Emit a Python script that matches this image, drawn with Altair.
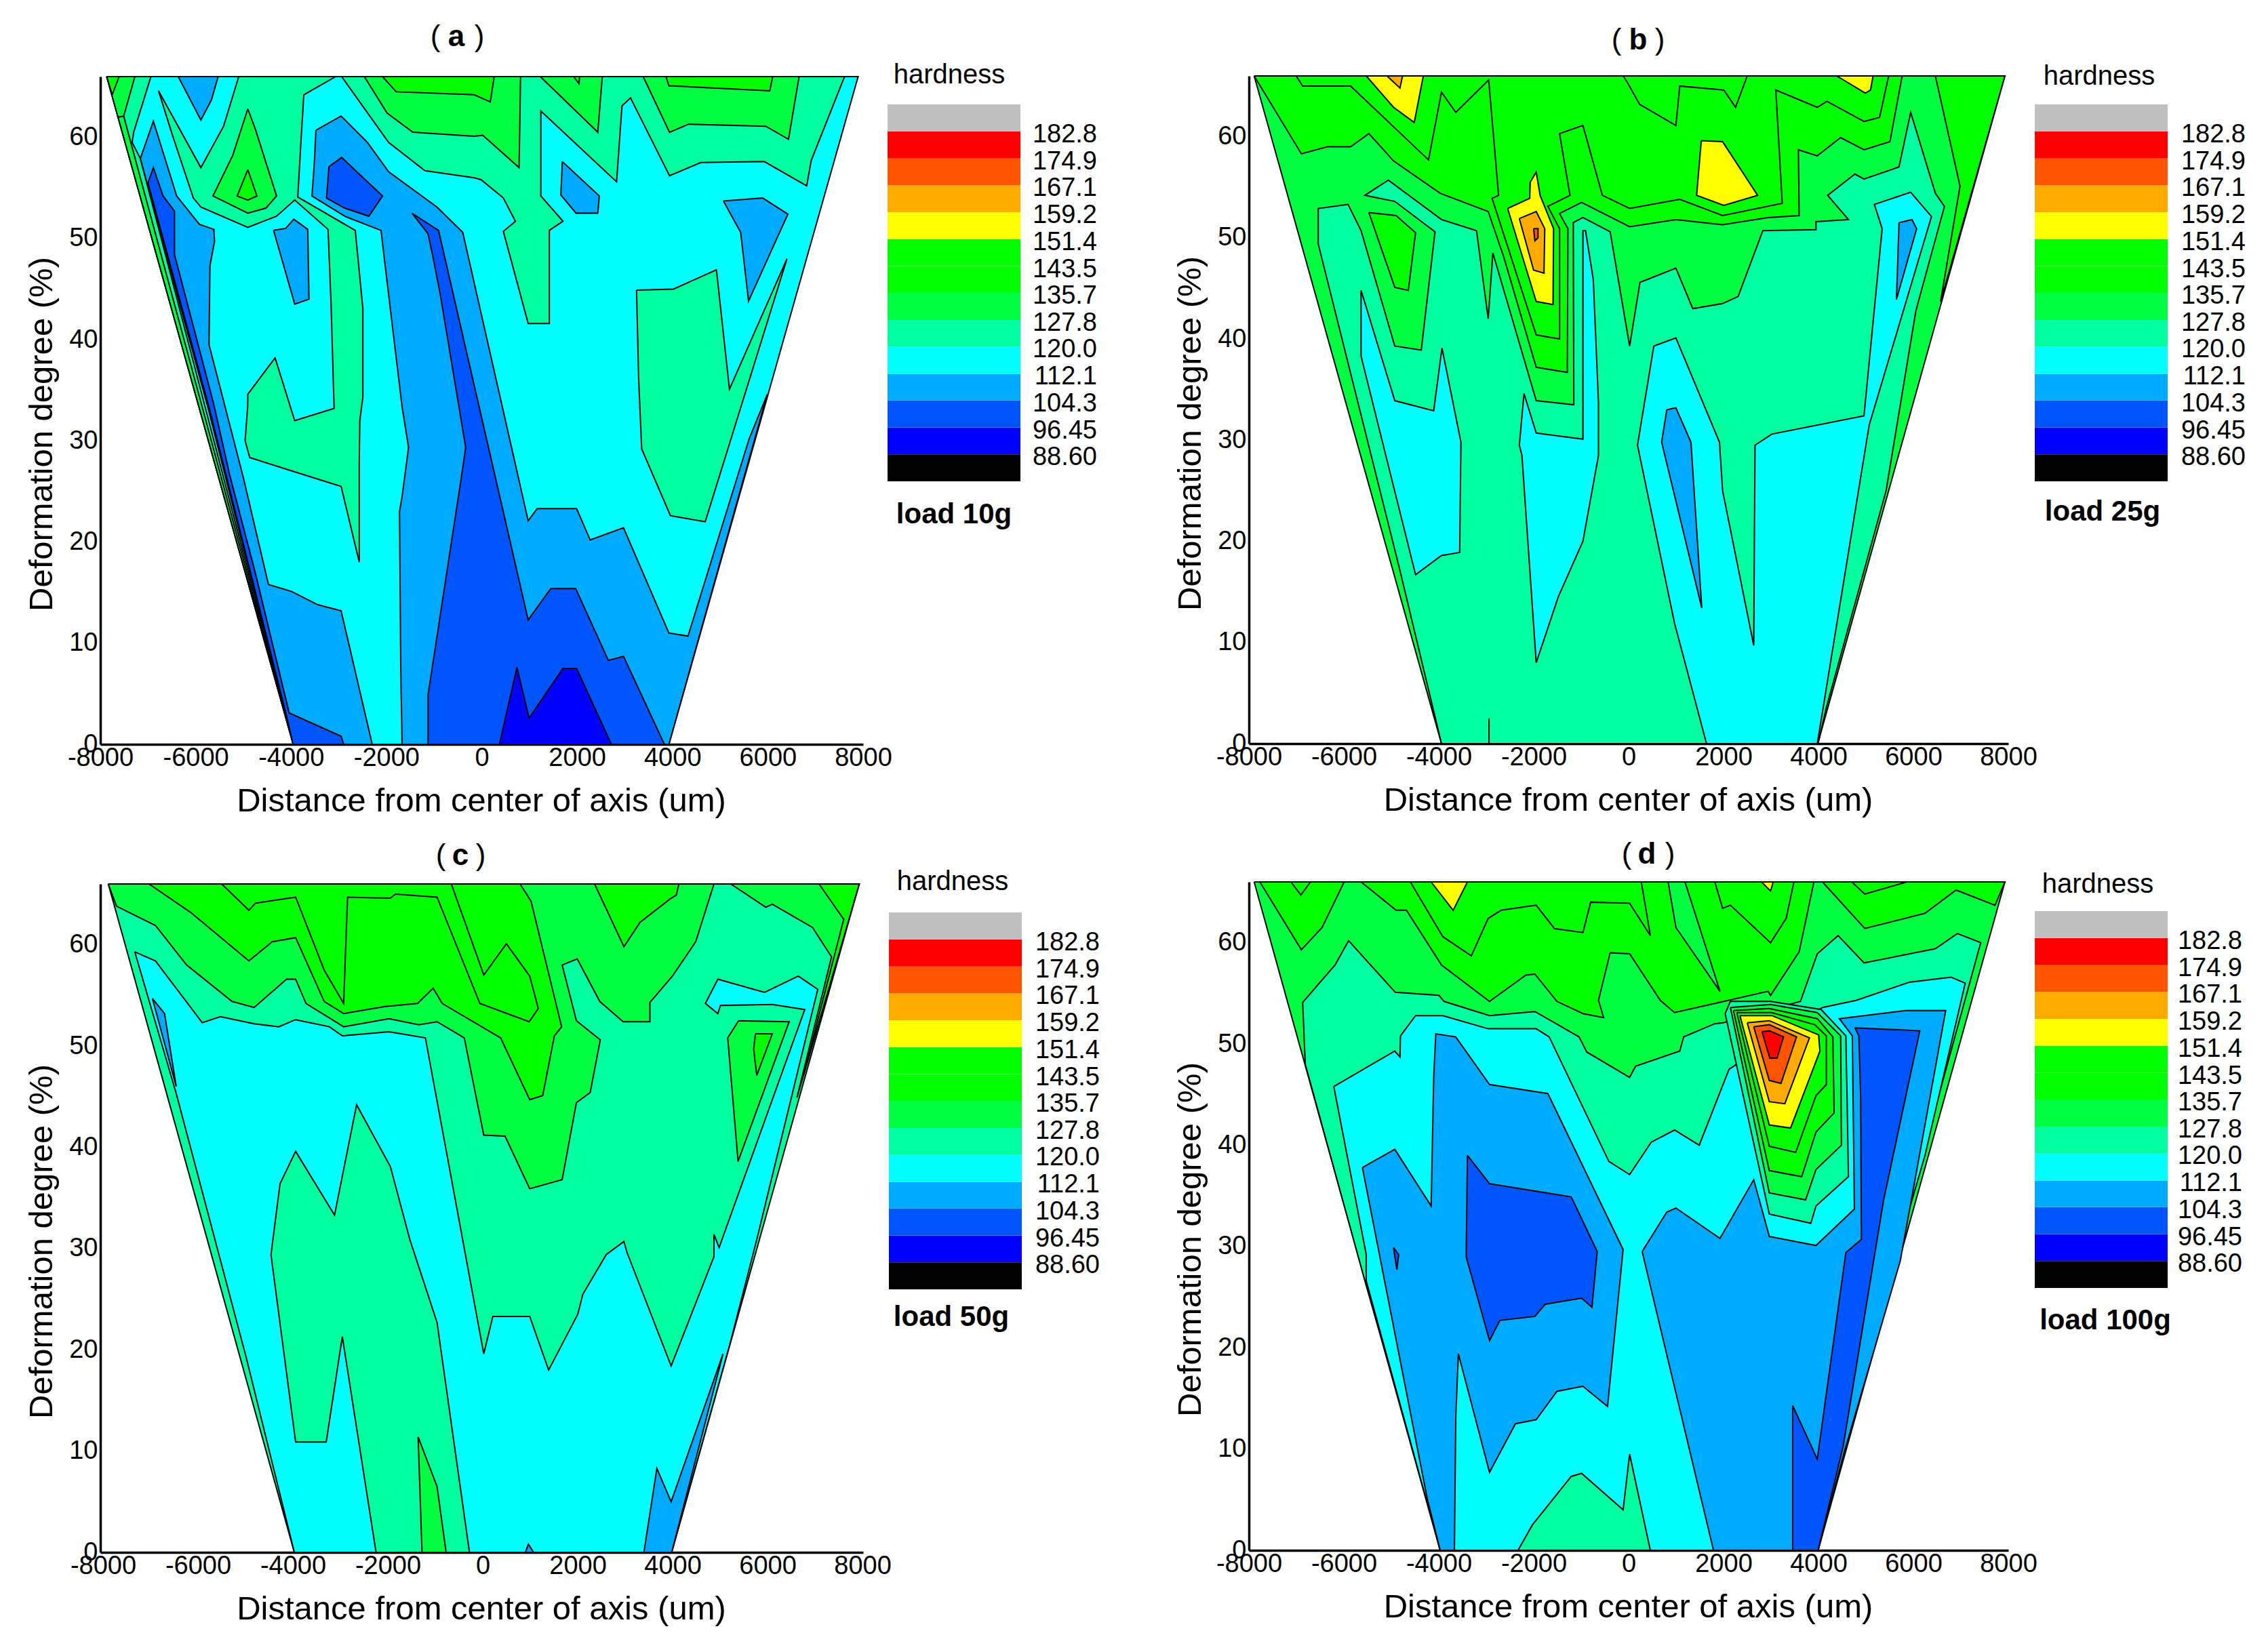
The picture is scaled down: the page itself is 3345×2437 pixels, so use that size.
import altair as alt
import pandas as pd

FONT = "Liberation Sans"
COL = {"R": "#FF0000", "T": "#FF5500", "O": "#FFAA00", "Y": "#FFFF00", "G": "#00FF00",
       "L": "#00FF40", "A": "#00FF9F", "C": "#00FFFF", "S": "#00AAFF", "B": "#0055FF", "P": "#0000FF"}

LEVELS = [88.60, 96.45, 104.3, 112.1, 120.0, 127.8, 135.7, 143.5, 151.4, 159.2, 167.1, 174.9, 182.8]
LEVEL_TEXT = ["88.60", "96.45", "104.3", "112.1", "120.0", "127.8", "135.7", "143.5", "151.4", "159.2", "167.1", "174.9", "182.8"]
BAND_LOW = [80.75] + LEVELS
BAND_HIGH = LEVELS + [190.65]
BAND_COL = ["#000000", "#0000FF", "#0055FF", "#00AAFF", "#00FFFF", "#00FF9F", "#00FF40", "#00FF00",
            "#00FF00", "#FFFF00", "#FFAA00", "#FF5500", "#FF0000", "#C0C0C0"]
X_TICKS = list(range(-8000, 8001, 2000))
Y_TICKS = list(range(0, 61, 10))

# Contour regions: (band, [(distance um, deformation %), ...]); later regions lie on earlier ones
PANEL_A = [
 ("C", [(-7866,66),(7895,66),(3926,0),(-3954,0)]),
 ("A", [(-7866,66),(-6939,66),(-7301,60.5),(-7333,59.5),(-7161,57.9),(-5800,33.3),(-3954,0)]),
 ("L", [(-7510,62.1),(-3954,0),(-7630,62)]),
 ("L", [(-7866,66),(-7275,66),(-7510,62.1),(-7630,62)]),
 ("G", [(-7866,66),(-7606,66),(-7752,64.2)]),
 ("S", [(-6367,66),(-5891,61.7),(-5669,63.7),(-5529,66)]),
 ("A", [(-5097,66),(-3065,66),(-3732,64.2),(-3783,60.3),(-3859,54.1),(-2653,50.8),(-2494,43.1),(-2494,34.3),(-2558,32),(-2569,28),(-2569,18),(-2950,25.5),(-4039,27.1),(-4866,28.35),(-4964,30),(-4910,33.35),(-4907,34.6),(-4335,38.2),(-3923,32),(-3097,33.2),(-3161,43.6),(-3224,50.9),(-3923,53.8),(-4304,52.2),(-4907,51.1),(-5891,53.1),(-6050,54),(-6494,60.3),(-6780,64.6),(-5891,57),(-5415,61.1)]),
 ("L", [(-4907,62.8),(-5224,58.2),(-5637,54.2),(-4907,52.5),(-4526,53),(-4304,54.2),(-4748,60.8)]),
 ("G", [(-4907,56.8),(-5129,54.2),(-4907,53.8),(-4716,54.2)]),
 ("S", [(-4367,50.8),(-4113,51),(-3942,51.9),(-3650,50.9),(-3624,44),(-3923,43.5)]),
 ("S", [(-7161,57.9),(-6888,61.6),(-6399,54.2),(-5923,51.4),(-5618,50.9),(-5605,49.7),(-5701,47.3),(-5720,39.5),(-5352,32.8),(-4992,26.2),(-4474,15.8),(-3984,15.1),(-3440,13.8),(-2950,13.2),(-2297,0),(-3954,0),(-5745,33.3)]),
 ("B", [(-7002,55.5),(-6888,57),(-6685,54.2),(-6444,52.7),(-6444,48.4),(-5620,33.6),(-5291,26.7),(-4747,16.9),(-4039,3.1),(-2950,0.8),(-2896,0),(-3957,0),(-4121,3.3),(-5720,33.3)]),
 ("S", [(-3478,60.7),(-2951,62.1),(-2399,59.5),(-1954,56.6),(-938,53.1),(-398,50.6),(974,22.1),(1164,23.3),(1990,23.3),(2275,20.2),(2974,21.4),(3926,11),(4326,10.7),(5609,30.2),(5990,34.6),(3926,0),(-1671,0),(-1698,7.1),(-1725,23),(-1671,24.5),(-1535,29.35),(-1671,33.35),(-2018,47),(-2113,50.8),(-2875,52.2),(-3561,54.2),(-3510,57.6)]),
 ("B", [(-3205,57.1),(-2938,58),(-2081,54.2),(-2367,52.2),(-2875,53),(-3256,54)]),
 ("B", [(-1465,52.5),(-906,50.8),(974,12.3),(1450,15.4),(1970,15.4),(2656,8.3),(2974,8.7),(3831,0),(-1126,0),(-1126,4.9),(-418,26.7),(-337,29.35),(-868,44.4),(-1033,48.4),(-1129,50.5)]),
 ("P", [(370,0),(739,7.6),(993,2.6),(1704,7.5),(1990,7.5),(2720,0)]),
 ("A", [(-2939,66),(-1954,59.5),(-1192,56.7),(-157,56),(-11,55.8),(453,54),(707,51.7),(453,50.7),(974,41.6),(1418,41.6),(1418,50.8),(1704,51.7),(1240,54.2),(1240,62.6),(2828,55.6),(2942,63.1),(3120,63.9),(3939,56.2),(4593,57.5),(5927,57.6),(6816,55.2),(6911,57.7),(7610,66)]),
 ("L", [(-2462,66),(-1986,62.4),(-1446,60.5),(-157,60.1),(21,60.2),(783,57),(815,66)]),
 ("L", [(1228,66),(2434,60.5),(2529,66)]),
 ("L", [(3387,66),(3939,60.5),(4339,61.3),(5958,61.1),(6435,59.8),(6657,66)]),
 ("G", [(-2081,66),(-1796,64.5),(-157,64.2),(180,63.5),(262,66)]),
 ("G", [(1926,66),(2040,65.3),(2053,66)]),
 ("G", [(3863,66),(3926,65.1),(6041,64.6),(6104,66)]),
 ("S", [(5069,53.7),(5895,54),(6422,52.4),(5596,43.8),(5431,50.6)]),
 ("S", [(1691,57.6),(2466,54.2),(2434,52.5),(1977,52.5),(1659,54.3)]),
 ("A", [(3247,44.9),(4022,45),(4923,46.9),(5196,35.1),(6403,48),(4688,22),(3958,22.6),(3355,29.2),(3291,36.1)]),
]

PANEL_B = [
 ("L", [(-7890,66),(7928,66),(3985,0),(-3943,0)]),
 ("A", [(-3943,0),(-4817,17.1),(-6540,49.4),(-6540,52.9),(-5911,53.3),(-5637,50.7),(-4927,39.3),(-4369,38.9),(-4079,50.6),(-4927,53.6),(-5556,54.2),(-5063,55.7),(-3943,51.8),(-3205,50.7),(-2959,42),(-2860,48.5),(-1947,33.9),(-1155,33.5),(-1166,51.5),(-963,52),(-389,50.6),(21,39.3),(240,45.6),(996,47),(1351,43),(1980,43.5),(2308,44.2),(2827,50.7),(3948,50.8),(3948,51.6),(4631,51.8),(4194,54.2),(4768,56.3),(4959,55.8),(5697,57),(5943,62.4),(6463,54.4),(6654,53.1),(6053,42.8),(5424,25),(4167,3.6),(3992,0)]),
 ("G", [(-7890,66),(-6895,58.3),(-6348,59),(-5856,59),(-5473,60.3),(-4954,57.6),(-3970,54.4),(-2959,52.6),(-2631,48.1),(-1947,37.2),(-1291,36.7),(-1280,50.9),(-1455,52.4),(-991,53.5),(21,51.1),(996,51.8),(1980,51.3),(2937,52),(3593,52.2),(3576,58.7),(3975,58.1),(4467,59.9),(4959,58.7),(5506,59.5),(5763,66)]),
 ("G", [(-5473,52.5),(-4899,52.2),(-4489,50.5),(-4642,44.8),(-4927,45.1)]),
 ("G", [(6463,66),(6982,55.1),(6572,43.7),(7928,66)]),
 ("G", [(-7004,66),(-6868,65),(-5856,65),(-4981,61.1),(-4216,57.7),(-3943,64.4),(-3642,62.4),(-2948,65.6),(-2740,54.2),(-2877,53.9),(-1947,40.4),(-1455,40),(-1455,50.9),(-1701,53.1),(-1236,54.2),(-1455,60.3),(-963,61.1),(-553,54.2),(21,52.9),(1078,53.8),(1980,52.2),(3237,53.4),(3101,64.6),(3975,62.9),(4178,63.5),(4959,61.5),(5287,61.9),(5479,66)]),
 ("G", [(-116,66),(-43,65.5),(230,63.2),(996,61.1),(1078,65),(2007,64.6),(2253,62.9),(2499,66)]),
 ("Y", [(-5528,66),(-4954,62.9),(-4517,61.4),(-4325,66)]),
 ("O", [(-5091,66),(-4817,64.8),(-4763,66)]),
 ("Y", [(-2549,52.9),(-2084,53.9),(-2073,55.5),(-1947,56.5),(-1865,54.2),(-1581,50.9),(-1592,43.4),(-1947,43.7)]),
 ("O", [(-2303,51.9),(-1947,52.6),(-1767,50.9),(-1783,46.5),(-2002,46.8)]),
 ("T", [(-2002,50.9),(-1909,50.9),(-1909,50),(-1975,49.7)]),
 ("Y", [(1531,59.6),(1980,59.5),(2718,54.2),(2007,53.2),(1433,54.2)]),
 ("Y", [(4385,66),(4987,64.3),(5096,64.6),(5151,66)]),
 ("C", [(-5637,44.8),(-4927,33.9),(-4107,32.9),(-3932,39.1),(-3533,29.8),(-3560,18.9),(-3943,18.6),(-4489,16.7),(-5637,38.3)]),
 ("C", [(-2204,34.6),(-1947,30.7),(-963,30.1),(-963,50.7),(-908,50.7),(-745,45.9),(-635,33.7),(-635,28.5),(-963,20),(-1483,14.5),(-1947,8),(-2248,28.5),(-2303,29.5)]),
 ("C", [(531,39.3),(996,40.1),(1914,29.8),(1980,25),(2636,9.7),(2663,29.5),(3019,30.6),(4959,32.4),(5342,50.9),(5178,53.3),(5943,54.5),(6381,52.1),(5069,31.5),(3975,0),(1641,0),(968,11.9),(187,29.5)]),
 ("S", [(804,33),(996,33.2),(1313,29.8),(1542,13.4),(695,29.8)]),
 ("S", [(5697,51.5),(5971,51.8),(6069,50.9),(5643,43.9)]),
 ("A", [(-2942,2.5),(-2942,0)]),
]

PANEL_C = [
 ("A", [(-7890,66),(7932,66),(3980,0),(-3970,0)]),
 ("L", [(-7890,66),(-7715,63.8),(-6895,61.9),(-6239,58),(-5282,54.4),(-4817,53.8),(-4134,56.6),(-3943,56.6),(-3724,54.2),(-2931,51.9),(-1974,52.7),(-1346,52.1),(-963,52.4),(-389,50.8),(21,41.2),(470,41.1),(989,35.9),(1673,36.8),(1973,44.4),(2263,45.4),(2476,50.6),(1973,52.5),(1673,58),(1990,58.6),(2465,54.4),(2958,52.4),(3521,52.4),(3521,54.3),(3996,56.9),(4488,60.3),(4871,66)]),
 ("L", [(5226,66),(5964,63.7),(6101,64),(6948,61.7),(7348,58.8),(6620,44.9),(7932,66)]),
 ("G", [(-7032,66),(-6157,63.2),(-4927,58.4),(-4435,60.3),(-3943,60.7),(-3341,54.4),(-2931,53.2),(-2056,53.9),(-1373,54.2),(-1045,55.7),(-854,54.2),(376,50.8),(989,44.7),(1263,45.1),(1509,51),(1662,51.9),(1017,64.3),(787,66)]),
 ("G", [(-5501,66),(-4927,63.4),(-4790,64.1),(-3943,64.7),(-3341,57.5),(-2931,54.2),(-2849,64.7),(-1947,64.6),(-1838,65),(-963,64.7),(-61,54.2),(978,52.4),(1170,53.7),(989,56.9),(497,60.1),(22,57),(-663,66)]),
 ("G", [(2356,66),(2974,59.8),(3313,62.2),(3942,64.5),(4078,64.9),(4133,66)]),
 ("G", [(7085,66),(7605,62.5),(6757,47.1),(7932,66)]),
 ("C", [(-7332,59.3),(-6895,58.4),(-5911,52.3),(-5528,52.9),(-4817,52.2),(-4298,51.9),(-3943,52.6),(-3232,51.9),(-2959,51),(-1974,51.4),(-1209,50.8),(21,19.6),(212,23.3),(989,23.3),(1388,18),(2001,23.5),(2110,25.5),(2602,29.4),(2974,30.7),(3040,29.6),(3969,18.4),(4871,29.2),(4871,31.4),(4980,30.1),(6784,53.6),(6101,54.1),(5008,54),(4953,53.2),(4691,54.2),(4953,56.6),(5937,55.3),(6648,56.9),(7058,55.6),(5773,30.9),(5226,20.9),(3980,0),(-3970,0),(-4981,19.2),(-6458,45.3)]),
 ("A", [(-4462,29.4),(-4271,36.4),(-3943,39.6),(-3123,33.3),(-2658,44.2),(-1947,38.1),(-1537,30.9),(-963,22.7),(-280,0),(-2248,0),(-2959,21.3),(-3298,10.9),(-3943,10.9)]),
 ("L", [(-1362,11.4),(-963,6.5),(-772,0),(-1280,0)]),
 ("S", [(-6961,54.7),(-6704,53.2),(-6458,46)]),
 ("S", [(3395,0),(3668,8.3),(3969,5),(5062,19.6),(3980,0)]),
 ("S", [(897,0),(962,0.8),(1071,0)]),
 ("L", [(5390,52.5),(6456,52.4),(5379,38.6),(5161,50.8)]),
 ("G", [(5746,51.2),(6101,51.2),(5773,47.1),(5707,49.7)]),
]

PANEL_D = [
 ("L", [(-7890,66),(7928,66),(3992,0),(-3970,0)]),
 ("A", [(-6813,48),(-6868,54.1),(-6184,57.8),(-5900,60.2),(-4916,55.1),(-3997,54.8),(-3888,54.2),(-2931,52.8),(-1974,53.2),(-1045,50.7),(-881,49.2),(21,46.7),(148,47.8),(1078,49.3),(1160,50.7),(1816,52),(1991,52.1),(3620,54.2),(3975,58.9),(4413,60.7),(4959,58),(6463,59.4),(6927,60.9),(7419,60),(6189,39),(5369,24.4),(4549,11.2),(3992,0),(-3970,0),(-4243,5.1),(-5556,26.6)]),
 ("C", [(-6212,45.8),(-4927,49.3),(-4817,48.7),(-4806,50.8),(-4489,52.8),(-3915,52.8),(-2959,51.5),(-1947,51.5),(-1674,50.7),(-416,38.4),(21,37.1),(476,40.3),(968,41.5),(1488,40),(2116,47.5),(4085,53.6),(4795,54.3),(5916,56.1),(6791,56.6),(7092,56),(6244,39),(5342,24.4),(4538,10.7),(3992,0),(-3970,0),(-5528,26.6),(-5528,29.2)]),
 ("S", [(-5610,37.8),(-4927,39.6),(-4161,34),(-4107,46.7),(-4063,51),(-3642,50.7),(-2931,46),(-1701,45.1),(-116,29.7),(-444,14.2),(-963,16.2),(-1510,15.7),(-1947,12.9),(-2384,12.5),(-2931,7.7),(-3587,19.4),(-3642,13.1),(-3670,0),(-3970,0),(-4243,5.1)]),
 ("B", [(-3396,39),(-2931,36.2),(-1209,34.9),(-662,29.5),(-772,24),(-991,24.9),(-1756,24.3),(-1974,23.1),(-2713,22.7),(-2931,20.7),(-3423,29)]),
 ("B", [(-4954,29.9),(-4845,29.2),(-4883,27.7)]),
 ("A", [(-2330,0),(-2029,2.5),(-1209,7.3),(-991,7.6),(-116,4),(21,9.5),(458,0)]),
 ("S", [(285,29.5),(804,33.4),(996,33.8),(1925,30.8),(2636,36.6),(2964,31),(3948,30.1),(4757,33.7),(4713,50.8),(4440,52.5),(5834,53.3),(6681,53.3),(5725,28.6),(4549,9.8),(3992,0),(1788,0)]),
 ("B", [(4768,51.6),(6135,51.3),(5369,34.5),(4522,10.3),(3992,0),(3456,0),(3456,14.3),(3975,9),(4577,29.4),(4905,30.7),(4888,44.9),(4850,50.8)]),
 ("G", [(-7770,66),(-6895,59.3),(-6458,61.5),(-5993,66)]),
 ("G", [(-7114,66),(-6906,64.7),(-6704,66)]),
 ("G", [(-5637,66),(-4899,63.2),(-4681,63.2),(-3943,57.8),(-2931,54.2),(-2166,56.8),(-1974,56.9),(-1510,54.2),(-963,53),(-526,52.6),(-635,54.3),(-389,59),(21,58.9),(668,54.3),(968,53.1),(2007,54.2),(2937,55.2),(2991,54.8),(3593,59.1),(3904,66)]),
 ("L", [(832,66),(996,61.5),(1925,55.2),(1187,66)]),
 ("G", [(-4599,66),(-3915,60.6),(-3314,58.7),(-2959,62.4),(-2685,63.2),(-1947,63.7),(-1565,61.4),(-963,61),(-799,64),(21,63.9),(458,60.7),(267,66)]),
 ("G", [(1816,66),(1980,63.4),(2144,63.7),(2991,60),(3319,62.4),(3483,66)]),
 ("Y", [(-4161,66),(-3697,63.2),(-3396,66)]),
 ("Y", [(2800,66),(2991,65.1),(3046,66)]),
 ("G", [(4085,66),(4976,61.4),(6244,62.9),(6900,65.2),(7720,63.7),(7928,66)]),
 ("G", [(4702,66),(4976,64.8),(5861,66)]),
 ("A", [(2034,53),(2964,33.2),(3839,32.3),(3948,34),(4631,36.9),(4604,44.3),(4577,50.8),(4057,53.4),(2991,54.2),(2144,54.2)]),
 ("L", [(2144,53.6),(2964,35.3),(3729,34.6),(3948,37.6),(4484,40),(4467,50.8),(3975,53.1),(2991,53.9)]),
 ("G", [(2209,53.3),(2964,37.5),(3647,36.9),(3948,41.3),(4330,43.2),(4303,50.7),(3975,52.5),(2964,53.5)]),
 ("G", [(2280,53.1),(2964,39.9),(3521,39.3),(3948,44.9),(4167,46),(4167,50.8),(3921,51.9),(3019,53.1)]),
 ("Y", [(2346,52.8),(2964,42),(3412,41.7),(4030,49.3),(4003,50.9),(3019,52.8)]),
 ("O", [(2499,52.1),(2964,44.3),(3292,44.1),(3811,50.6),(2964,52.3)]),
 ("T", [(2636,51.7),(2964,46.4),(3210,46.1),(3538,50.7),(2964,51.9)]),
 ("R", [(2811,51.2),(2975,48.6),(3128,48.6),(3265,50.7),(2964,51.3)]),
]


def frame(polys):
    rows = []
    for p, (band, pts) in enumerate(polys):
        for i, (x, y) in enumerate(pts + [pts[0]]):
            rows.append({"p": p, "i": i, "x": x, "y": y, "col": COL[band]})
    return pd.DataFrame(rows)


def word(text, px, py, bold=False, size=44):
    return alt.Chart(pd.DataFrame({"t": [text]})).mark_text(
        font=FONT, fontSize=size, fontWeight="bold" if bold else "normal",
        align="center", baseline="middle", color="black"
    ).encode(x=alt.value(px), y=alt.value(py), text="t:N")


def panel(polys, w, cell_w, top, h, dom, letter, tx, ty):
    """Plot of width w and height h, `top` px below the cell's top edge; the cell has width cell_w."""
    xa = alt.Axis(values=X_TICKS, grid=False, ticks=False, domainColor="black", domainWidth=3.5,
                  labelFont=FONT, labelFontSize=38, labelColor="black", labelPadding=1, labelOverlap=False,
                  labelFlush=False, labelExpr="'' + datum.value",
                  title="Distance from center of axis (um)", titleFont=FONT, titleFontSize=49,
                  titleFontWeight="normal", titleColor="black", titleX=w / 2 - 1, titleY=83, titleBaseline="middle")
    ya = alt.Axis(values=Y_TICKS, grid=False, ticks=False, domainColor="black", domainWidth=3.5,
                  labelFont=FONT, labelFontSize=38, labelColor="black", labelPadding=4, labelOverlap=False,
                  labelFlush=False, title="Deformation degree (%)", titleFont=FONT, titleFontSize=49,
                  titleFontWeight="normal", titleColor="black", titleX=-87, titleY=top + 527, titleBaseline="middle")
    body = alt.Chart(frame(polys)).mark_line(stroke="black", strokeWidth=2, strokeJoin="miter").encode(
        x=alt.X("x:Q", scale=alt.Scale(domain=dom, range=[0, w], nice=False, zero=False), axis=xa),
        y=alt.Y("y:Q", scale=alt.Scale(domain=[0, 66], range=[top + h, top], nice=False), axis=ya),
        detail="p:N",
        order=alt.Order("i:Q"),
        fill=alt.Fill("col:N", scale=None),
    )
    return alt.layer(
        body,
        word("(", tx[0], ty),
        word(letter, tx[1], ty, bold=True),
        word(")", tx[2], ty),
    ).properties(width=cell_w, height=top + h)


def legend(load, cell_w, left, top, hard_xy, load_xy, label_right):
    df = pd.DataFrame({"lo": BAND_LOW, "hi": BAND_HIGH, "c": BAND_COL})
    yscale = alt.Scale(domain=[80.75, 190.65], range=[top + 556, top], nice=False, zero=False)
    rects = alt.Chart(df).mark_rect().encode(
        x=alt.value(left), x2=alt.value(left + 196),
        y=alt.Y("lo:Q", scale=yscale, axis=None),
        y2="hi:Q",
        fill=alt.Fill("c:N", scale=None),
    )
    labels = alt.Chart(pd.DataFrame({"v": LEVELS, "t": LEVEL_TEXT})).mark_text(
        font=FONT, fontSize=38, align="right", baseline="middle", color="black", dy=5
    ).encode(x=alt.value(label_right), y=alt.Y("v:Q", scale=yscale, axis=None), text="t:N")
    return alt.layer(
        rects, labels,
        word("hardness", hard_xy[0], hard_xy[1], size=40),
        word(load, load_xy[0], load_xy[1], bold=True, size=42),
    ).properties(width=cell_w, height=top + 556)


COL1_W = 1161
COL2_W = 533
COL3_W = 1159
COL4_W = 320

a = panel(PANEL_A, 1125, COL1_W, 1, 985, [-8000, 8000], "a", (494, 525, 559), -57)
b = panel(PANEL_B, 1120, COL3_W, 0, 985, [-8000, 8000], "b", (542, 574, 606), -52)
c = panel(PANEL_C, 1125, COL1_W, 3, 986, [-8057, 8014], "c", (502, 531, 561), -38)
d = panel(PANEL_D, 1120, COL3_W, 0, 986, [-8000, 8000], "d", (557, 587, 621), -40)

la = legend("load 10g", COL2_W, 0, 42, (91, -1), (98, 647), 309)
lb = legend("load 25g", COL4_W, 0, 42, (95, 1), (100, 643), 311)
lc = legend("load 50g", COL2_W, 2, 45, (96, 0), (94, 642), 313)
ld = legend("load 100g", COL4_W, 0, 43, (93, 4), (104, 647), 306)

chart = alt.concat(a, la, b, lb, c, lc, d, ld, columns=4, spacing={"row": 203, "column": 0},
                   bounds="flush", align="each").properties(
    padding={"left": 29, "top": 25, "right": 0, "bottom": 5}
).configure_view(stroke=None)

chart.save("out.html", embed_options={"renderer": "svg", "actions": False})
